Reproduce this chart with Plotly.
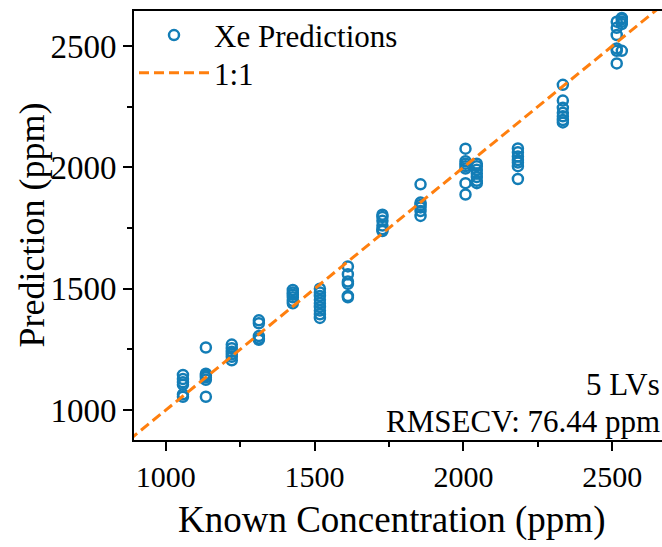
import plotly.graph_objects as go

# Known concentrations (ppm) and the cross-validated predictions (ppm)
known = (
    [1058] * 6 + [1135] * 6 + [1222] * 6 + [1313] * 5 + [1427] * 6 +
    [1518] * 9 + [1612] * 6 + [1728] * 6 + [1856] * 6 + [2007] * 7 +
    [2045] * 7 + [2183] * 7 + [2334] * 7 + [2515] * 6 + [2532] * 5
)
predicted = [
    1145, 1128, 1115, 1105, 1065, 1055,
    1258, 1150, 1143, 1135, 1125, 1055,
    1270, 1255, 1240, 1230, 1220, 1205,
    1370, 1358, 1305, 1295, 1290,
    1495, 1485, 1475, 1465, 1450, 1440,
    1500, 1485, 1470, 1455, 1440, 1425, 1410, 1395, 1380,
    1592, 1560, 1530, 1520, 1470, 1465,
    1805, 1795, 1780, 1760, 1745, 1738,
    1930, 1855, 1845, 1835, 1820, 1800,
    2077, 2025, 2015, 2005, 1995, 1935, 1888,
    2015, 2005, 1990, 1975, 1960, 1945, 1935,
    2078, 2062, 2045, 2030, 2020, 2005, 1952,
    2340, 2275, 2245, 2225, 2210, 2195, 2185,
    2600, 2575, 2545, 2490, 2480, 2428,
    2615, 2610, 2600, 2590, 2480,
]
ref_line = [800, 2800]
x_range = [893.6, 2667]
y_range = [877, 2644]
tick_vals = [1000, 1500, 2000, 2500]

FONT = "Liberation Serif"
BLUE = "#137db6"
ORANGE = "#ff7f0e"

fig = go.Figure()
fig.add_trace(go.Scatter(
    x=known, y=predicted, mode="markers", name="Xe Predictions",
    legend="legend",
    marker=dict(symbol="circle-open", size=10, color=BLUE,
                line=dict(width=2.5, color=BLUE)),
))
fig.add_trace(go.Scatter(
    x=ref_line, y=ref_line, mode="lines", name="1:1",
    legend="legend2",
    line=dict(color=ORANGE, width=3, dash="10px,5px"),
))

def axis_common(tick_size):
    return dict(
        showline=True, linecolor="black", linewidth=2,
        ticks="outside", ticklen=9, tickwidth=2, tickcolor="black",
        showgrid=False, zeroline=False,
        tickvals=tick_vals,
        tickfont=dict(family=FONT, size=tick_size, color="black"),
        minor=dict(ticks="outside", ticklen=5, tickwidth=2, tickcolor="black",
                   dtick=250, tick0=0, showgrid=False),
    )

legend_common = dict(xanchor="left", yanchor="top", bgcolor="rgba(0,0,0,0)",
                     font=dict(family=FONT, size=31, color="black"),
                     itemwidth=70, borderwidth=0)

fig.update_layout(
    width=662, height=547,
    margin=dict(l=134, r=0, t=11, b=107),
    plot_bgcolor="white", paper_bgcolor="white",
    font=dict(family=FONT, color="black"),
    xaxis=dict(range=x_range, mirror=True, **axis_common(30)),
    yaxis=dict(range=y_range, mirror=False, **axis_common(33)),
    legend=dict(x=0.0, y=1.006, **legend_common),
    legend2=dict(x=0.0, y=0.918, **legend_common),
    showlegend=True,
    annotations=[
        dict(text="Known Concentration (ppm)", xref="paper", yref="paper",
             x=0.4877, y=-0.1865, xanchor="center", yanchor="middle",
             showarrow=False, font=dict(family=FONT, size=37, color="black")),
        dict(text="Prediction (ppm)", xref="paper", yref="paper",
             x=-0.195, y=0.5, xanchor="center", yanchor="middle", textangle=-90,
             showarrow=False, font=dict(family=FONT, size=36, color="black")),
        dict(text="5 LVs", xref="paper", yref="paper", x=1.0, y=0.13,
             xanchor="right", yanchor="middle", showarrow=False,
             font=dict(family=FONT, size=31, color="black")),
        dict(text="RMSECV: 76.44 ppm", xref="paper", yref="paper", x=1.0, y=0.042,
             xanchor="right", yanchor="middle", showarrow=False,
             font=dict(family=FONT, size=31, color="black")),
    ],
)

fig.write_html("out.html")
